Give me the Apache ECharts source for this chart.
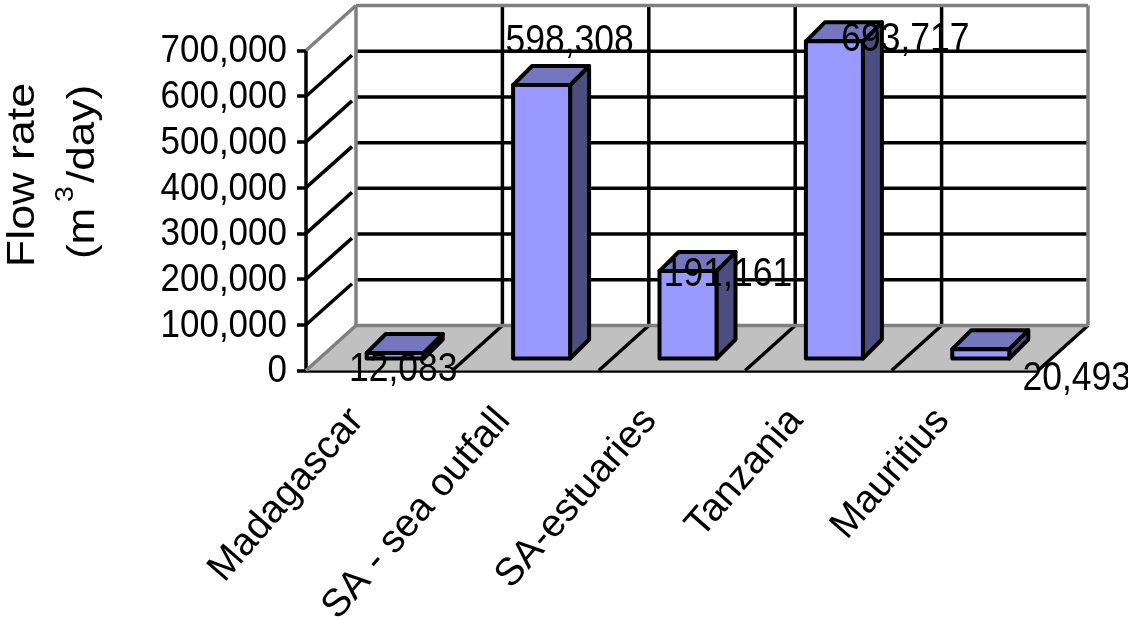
<!DOCTYPE html>
<html>
<head>
<meta charset="utf-8">
<style>html,body{margin:0;padding:0;background:#fff}#chart{width:1128px;height:617px}</style>
<script src="https://cdn.jsdelivr.net/npm/echarts@6/dist/echarts.min.js"></script>
</head>
<body>
<div id="chart"></div>
<script>
// Daily flow rate of wastewater by region
const categories = ['Madagascar', 'SA - sea outfall', 'SA-estuaries', 'Tanzania', 'Mauritius'];
const flowRates = [12083, 598308, 191161, 693717, 20493];
const yTicks = [0, 100000, 200000, 300000, 400000, 500000, 600000, 700000];

// Pseudo-3D projection, in pixels
const WALL_DX = 50, WALL_DY = -45;     // front plane to back wall
const BAR_DX = 16, BAR_DY = -12;       // front plane to bar front face
const BAR_TOP_DX = 19, BAR_TOP_DY = -19; // bar front face to bar back face
const BAR_W = 57;
// Value label anchor relative to the bar's projected top-centre
const labelShift = [[8, 17], [28, -43], [40, 4], [71, -1], [96, 30]];

const FONT = '"Liberation Sans", Arial, sans-serif';
const BLACK = '#000', WALL = '#808080';
const STROKE = 3.5, BAR_STROKE = 4;
const TALL = 1.13;   // text in this chart is drawn slightly taller than wide

function fmt(v) { return v.toLocaleString('en-US'); }

function line(x1, y1, x2, y2, color) {
  return { type: 'line', shape: { x1, y1, x2, y2 }, style: { stroke: color, lineWidth: STROKE } };
}
function poly(points, fill) {
  return { type: 'polygon', shape: { points }, style: { fill, stroke: BLACK, lineWidth: BAR_STROKE, lineJoin: 'round' } };
}

// Back wall, floor, side-wall diagonals and gridlines
function renderRoom(params, api) {
  const band = api.size([1, 0])[0];
  const n = categories.length;
  const x0 = api.coord([0, 0])[0] - band / 2;
  const x1 = x0 + band * n;
  const y0 = api.coord([0, 0])[1];
  const yTop = api.coord([0, yTicks[yTicks.length - 1]])[1];
  const kids = [];
  kids.push({ type: 'polygon',
    shape: { points: [[x0, y0], [x0 + WALL_DX, y0 + WALL_DY], [x1 + WALL_DX, y0 + WALL_DY], [x1, y0]] },
    style: { fill: '#C0C0C0' } });
  for (let i = 1; i <= n; i++) {
    const x = x0 + band * i;
    kids.push(line(x, y0, x + WALL_DX, y0 + WALL_DY, BLACK));
    if (i < n) kids.push(line(x + WALL_DX, y0 + WALL_DY, x + WALL_DX, yTop + WALL_DY, BLACK));
  }
  yTicks.slice(1, -1).forEach(function (t) {
    const y = api.coord([0, t])[1];
    kids.push(line(x0, y, x0 + WALL_DX - 4, y + WALL_DY + 4, BLACK));
    kids.push(line(x0 + WALL_DX, y + WALL_DY, x1 + WALL_DX, y + WALL_DY, BLACK));
  });
  // Wall and floor borders
  kids.push(line(x0 + WALL_DX, y0 + WALL_DY, x1 + WALL_DX, y0 + WALL_DY, WALL));
  kids.push(line(x0 + WALL_DX, y0 + WALL_DY, x0 + WALL_DX, yTop + WALL_DY, WALL));
  kids.push(line(x1 + WALL_DX, y0 + WALL_DY, x1 + WALL_DX, yTop + WALL_DY, WALL));
  kids.push(line(x0 + WALL_DX, yTop + WALL_DY, x1 + WALL_DX, yTop + WALL_DY, WALL));
  kids.push(line(x0, yTop, x0 + WALL_DX, yTop + WALL_DY, WALL));
  kids.push(line(x0, y0, x0 + WALL_DX, y0 + WALL_DY, WALL));
  return { type: 'group', children: kids };
}

// One box: front face, top face and right side face
function renderBar(params, api) {
  const base = api.coord([api.value(0), 0]);
  const top = api.coord([api.value(0), api.value(1)]);
  const l = base[0] + BAR_DX - BAR_W / 2, r = l + BAR_W;
  const b = base[1] + BAR_DY, t = top[1] + BAR_DY;
  const dx = BAR_TOP_DX, dy = BAR_TOP_DY;
  return { type: 'group', children: [
    poly([[r, b], [r + dx, b + dy], [r + dx, t + dy], [r, t]], '#4D4D80'),
    poly([[l, t], [l + dx, t + dy], [r + dx, t + dy], [r, t]], '#7676BF'),
    poly([[l, b], [r, b], [r, t], [l, t]], '#9999FF')
  ] };
}

function renderValueLabel(params, api) {
  const i = api.value(0);
  const top = api.coord([i, api.value(1)]);
  const s = labelShift[i];
  return { type: 'text', x: top[0] + BAR_DX + s[0], y: top[1] + BAR_DY + s[1], scaleY: TALL,
    style: { text: fmt(api.value(1)), align: 'center', verticalAlign: 'middle',
      font: '35.5px ' + FONT, fill: BLACK } };
}

// Value-axis tick labels, placed from the axis scale
function renderTickLabel(params, api) {
  const p = api.coord([0, api.value(0)]);
  const band = api.size([1, 0])[0];
  return { type: 'text', x: p[0] - band / 2 - 19, y: p[1] + 1, scaleY: TALL,
    style: { text: fmt(api.value(0)), align: 'right', verticalAlign: 'middle',
      font: '35px ' + FONT, fill: BLACK } };
}

const barData = flowRates.map(function (v, i) { return [i, v]; });
const tickData = yTicks.map(function (v) { return [v]; });

const chart = echarts.init(document.getElementById('chart'), null, { renderer: 'canvas' });
chart.setOption({
  animation: false,
  backgroundColor: '#fff',
  grid: { left: 306, top: 50.5, width: 732, height: 320, outerBoundsMode: 'none' },
  xAxis: {
    type: 'category', data: categories,
    axisLine: { lineStyle: { color: BLACK, width: STROKE } },
    axisTick: { length: 10, lineStyle: { color: BLACK, width: STROKE } },
    axisLabel: { rotate: 49, margin: 18, padding: [0, 34, 0, 0], interval: 0, color: BLACK, fontFamily: FONT, fontSize: 39 }
  },
  yAxis: {
    type: 'value', min: 0, max: 700000, interval: 100000,
    splitLine: { show: false },
    axisLine: { show: true, lineStyle: { color: BLACK, width: STROKE } },
    axisTick: { show: true, length: 9, lineStyle: { color: BLACK, width: STROKE } },
    axisLabel: { show: false }
  },
  // Axis title, two rotated lines stretched along their length
  graphic: [
    { type: 'text', x: 23, y: 175, rotation: Math.PI / 2, scaleX: 1.15,
      style: { text: 'Flow rate', align: 'center', verticalAlign: 'middle', font: '39px ' + FONT, fill: BLACK } },
    { type: 'text', x: 83, y: 172, rotation: Math.PI / 2, scaleX: TALL,
      style: { text: '{a|(m}{s|3}{a|/day)}', align: 'center', verticalAlign: 'middle', fill: BLACK,
        rich: {
          a: { font: '39px ' + FONT, fill: BLACK, lineHeight: 58 },
          s: { font: '25px ' + FONT, fill: BLACK, lineHeight: 58, verticalAlign: 'top', padding: [0, 3, 16, 5] }
        } } }
  ],
  series: [
    { type: 'custom', renderItem: renderRoom, data: [[0, 0]], z: 1, clip: false, silent: true },
    { type: 'custom', renderItem: renderBar, data: barData, z: 2, clip: false, encode: { x: 0, y: 1 } },
    { type: 'custom', renderItem: renderValueLabel, data: barData, z: 3, clip: false, encode: { x: 0, y: 1 } },
    { type: 'custom', renderItem: renderTickLabel, data: tickData, z: 3, clip: false, encode: { y: 0 } }
  ]
});
</script>
</body>
</html>
